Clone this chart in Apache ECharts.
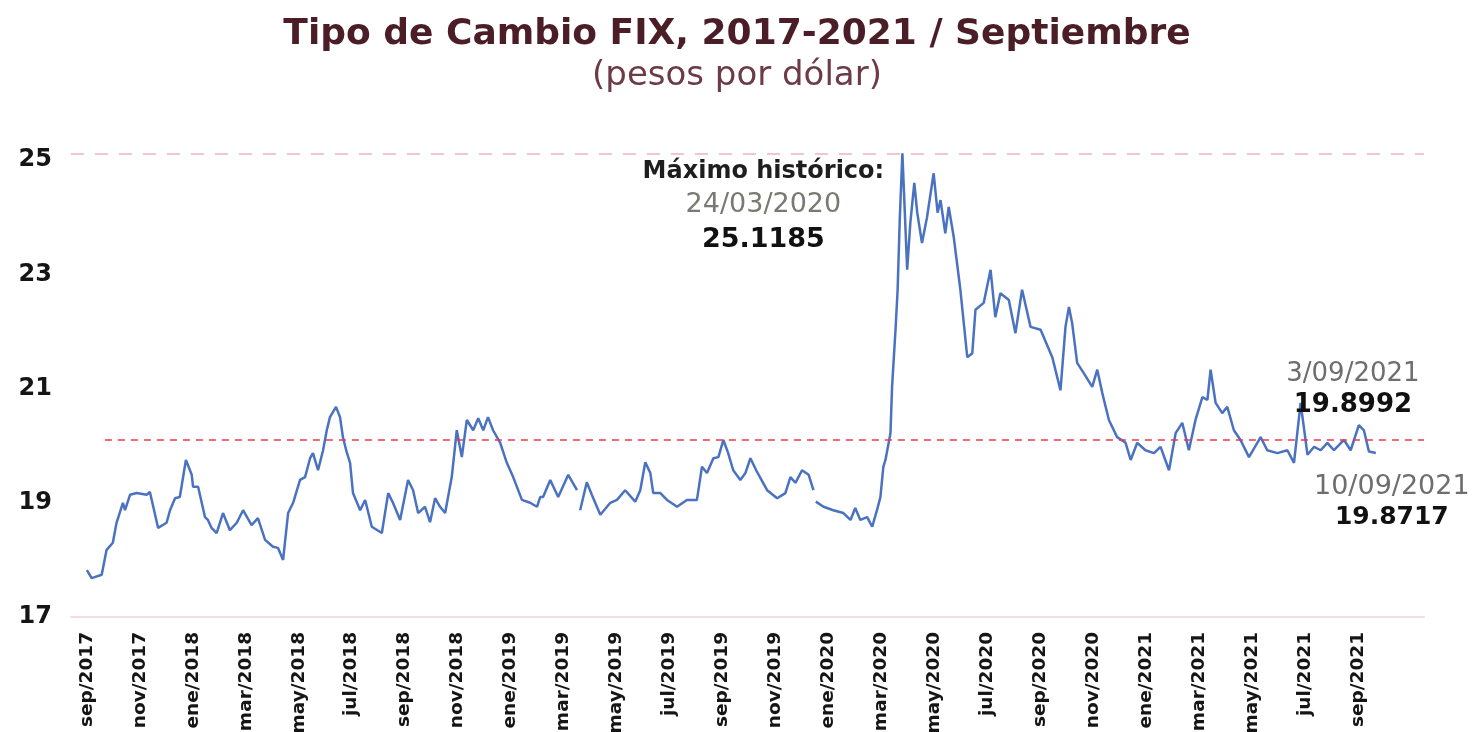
<!DOCTYPE html>
<html>
<head>
<meta charset="utf-8">
<script src="https://cdn.jsdelivr.net/npm/echarts@6/dist/echarts.min.js"></script>
<style>html,body{margin:0;padding:0;background:#fff}#c{width:1474px;height:732px}</style>
</head>
<body>
<div id="c"></div>
<script>
// Tick labels (every two months, starting sep/2017 = month 0)
const tickLabels = ['sep/2017','nov/2017','ene/2018','mar/2018','may/2018','jul/2018','sep/2018','nov/2018',
  'ene/2019','mar/2019','may/2019','jul/2019','sep/2019','nov/2019','ene/2020','mar/2020','may/2020',
  'jul/2020','sep/2020','nov/2020','ene/2021','mar/2021','may/2021','jul/2021','sep/2021'];

// Months elapsed since 1 Sep 2017
const meses = [0.00,0.18,0.56,0.74,0.98,1.12,1.36,1.44,1.63,1.88,2.26,2.38,2.69,3.01,3.14,3.33,3.51,3.74,3.96,4.01,
  4.20,4.46,4.57,4.71,4.90,5.14,5.40,5.66,5.90,6.22,6.46,6.73,7.03,7.22,7.41,7.60,7.79,8.05,8.24,8.43,
  8.54,8.73,8.92,9.06,9.18,9.41,9.56,9.67,9.81,9.94,10.05,10.32,10.51,10.76,11.14,11.38,11.56,11.83,12.13,12.32,
  12.51,12.77,12.96,13.15,13.34,13.53,13.78,13.97,14.16,14.35,14.59,14.78,14.97,15.15,15.34,15.61,15.86,16.10,16.43,16.74,
  17.00,17.12,17.23,17.50,17.80,18.18,18.51,18.57,18.63,18.88,19.07,19.39,19.77,20.02,20.33,20.71,20.90,21.09,21.28,21.39,
  21.66,21.91,22.29,22.66,23.04,23.23,23.42,23.66,23.85,24.04,24.22,24.41,24.68,24.87,25.06,25.31,25.69,26.07,26.38,26.57,
  26.76,27.01,27.26,27.44,27.48,27.53,27.82,28.19,28.57,28.84,29.02,29.21,29.47,29.66,29.84,29.97,30.08,30.16,30.35,30.41,
  30.54,30.62,30.70,30.80,30.98,31.10,31.25,31.36,31.54,31.73,31.98,32.13,32.24,32.42,32.55,32.74,32.99,33.25,33.44,33.56,
  33.87,34.13,34.31,34.50,34.82,35.07,35.32,35.64,36.02,36.46,36.77,36.96,37.09,37.21,37.40,37.65,37.97,38.16,38.35,38.60,
  38.91,39.23,39.42,39.67,39.98,40.30,40.55,40.87,41.12,41.37,41.62,41.87,42.13,42.32,42.44,42.63,42.88,43.07,43.32,43.57,
  43.89,44.33,44.58,44.96,45.34,45.59,45.84,46.10,46.35,46.60,46.85,47.10,47.48,47.73,48.04,48.23,48.42,48.68];

// Tipo de cambio FIX (pesos por dólar); null = gap in the line
const fix = [17.82,17.68,17.74,18.17,18.30,18.65,19.00,18.87,19.14,19.17,19.14,19.19,18.56,18.65,18.87,19.08,19.10,19.75,19.49,19.28,
  19.28,18.75,18.70,18.56,18.47,18.82,18.52,18.65,18.87,18.61,18.73,18.35,18.23,18.21,18.00,18.82,19.00,19.40,19.45,19.78,
  19.87,19.57,19.92,20.27,20.50,20.68,20.50,20.15,19.89,19.70,19.17,18.87,19.05,18.58,18.47,19.17,19.00,18.70,19.40,19.22,
  18.82,18.93,18.66,19.08,18.93,18.82,19.45,20.27,19.80,20.45,20.27,20.48,20.27,20.50,20.27,20.05,19.70,19.45,19.05,19.00,
  18.93,19.10,19.10,19.40,19.10,19.49,19.22,null,18.87,19.36,19.14,18.79,19.00,19.05,19.22,19.02,19.22,19.71,19.52,19.17,
  19.17,19.05,18.93,19.05,19.05,19.63,19.52,19.78,19.80,20.10,19.87,19.57,19.40,19.52,19.78,19.54,19.22,19.08,19.17,19.45,
  19.35,19.57,19.49,19.22,null,19.02,18.93,18.87,18.82,18.70,18.91,18.70,18.75,18.58,18.87,19.10,19.63,19.75,20.22,21.03,
  22.03,22.73,23.95,25.1185,23.08,23.90,24.60,24.08,23.55,24.00,24.77,24.08,24.30,23.72,24.18,23.65,22.73,21.55,21.62,22.38,
  22.50,23.08,22.25,22.67,22.55,21.97,22.73,22.08,22.03,21.55,20.97,22.08,22.43,22.15,21.45,21.27,21.03,21.33,20.92,20.45,
  20.15,20.05,19.75,20.05,19.92,19.87,19.98,19.57,20.22,20.40,19.92,20.45,20.85,20.80,21.33,20.75,20.57,20.68,20.27,20.10,
  19.80,20.15,19.92,19.87,19.92,19.70,20.75,19.84,19.98,19.92,20.05,19.92,20.10,19.92,20.36,20.27,19.8992,19.8717];

const yTicks = [17, 19, 21, 23, 25];
const maxPoint = { mes: 30.80, valor: 25.1185, fecha: '24/03/2020' };
const penultimo = { mes: 48.42, valor: 19.8992, fecha: '3/09/2021' };
const ultimo = { mes: 48.68, valor: 19.8717, fecha: '10/09/2021' };
const referencia = { desde: 0.68, valor: 20.1 };

const FONT = 'DejaVu Sans';
const chart = echarts.init(document.getElementById('c'), null, { renderer: 'canvas' });
const seriesData = meses.map((m, i) => [m, fix[i]]);

chart.setOption({
  backgroundColor: '#ffffff',
  animation: false,
  title: [
    { text: 'Tipo de Cambio FIX, 2017-2021 / Septiembre', left: 'center', top: 12,
      textStyle: { fontFamily: FONT, fontSize: 36, fontWeight: 'bold', color: '#4b1e27' } },
    { text: '(pesos por dólar)', left: 'center', top: 54,
      textStyle: { fontFamily: FONT, fontSize: 34, fontWeight: 'normal', color: '#6d3b47' } }
  ],
  grid: { left: 71, right: 50, top: 143, bottom: 115, containLabel: false, outerBoundsMode: 'none' },
  xAxis: {
    type: 'value', min: -0.6, max: 50.5,
    axisLine: { show: true, lineStyle: { color: '#f6dde3', width: 2 } },
    axisTick: { show: false },
    splitLine: { show: false },
    axisLabel: {
      customValues: tickLabels.map((_, i) => i * 2),
      formatter: v => tickLabels[Math.round(v / 2)] || '',
      rotate: 90, margin: 15,
      fontFamily: FONT, fontSize: 18.5, fontWeight: 'bold', color: '#151515'
    }
  },
  yAxis: {
    type: 'value', min: 17, max: 25.3,
    axisLine: { show: false }, axisTick: { show: false }, splitLine: { show: false },
    axisLabel: { customValues: yTicks, margin: 19, fontFamily: FONT, fontSize: 24, fontWeight: 'bold', color: '#151515' }
  },
  series: [{
    type: 'line', data: seriesData, showSymbol: false, connectNulls: false, clip: false,
    lineStyle: { color: '#4a72c0', width: 2.5 },
    itemStyle: { color: '#4a72c0' },
    markLine: {
      silent: true, symbol: ['none', 'none'], label: { show: false },
      data: [
        [{ coord: [-0.6, maxPoint.valor], lineStyle: { color: '#f3c6ce', width: 2, type: [13, 11] } },
         { coord: [50.5, maxPoint.valor] }],
        [{ coord: [referencia.desde, referencia.valor], lineStyle: { color: '#e63b4d', width: 1.6, type: [7, 6] } },
         { coord: [50.5, referencia.valor] }]
      ]
    },
    markPoint: {
      symbol: 'circle', symbolSize: 0, silent: true,
      data: [
        { coord: [maxPoint.mes, maxPoint.valor],
          label: { show: true, position: 'inside', offset: [-139, 53], align: 'center',
            formatter: '{a|Máximo histórico:}\n{b|' + maxPoint.fecha + '}\n{c|' + maxPoint.valor.toFixed(4) + '}',
            rich: {
              a: { fontFamily: FONT, fontSize: 24, fontWeight: 'bold', color: '#1e1e1e', lineHeight: 33, align: 'center' },
              b: { fontFamily: FONT, fontSize: 27, color: '#7a7a72', lineHeight: 34, align: 'center' },
              c: { fontFamily: FONT, fontSize: 27, fontWeight: 'bold', color: '#111', lineHeight: 36, align: 'center' }
            } } },
        { coord: [penultimo.mes, penultimo.valor],
          label: { show: true, position: 'inside', offset: [-16, -62], align: 'center',
            formatter: '{b|' + penultimo.fecha + '}\n{c|' + penultimo.valor.toFixed(4) + '}',
            rich: {
              b: { fontFamily: FONT, fontSize: 26, color: '#6e6e6e', lineHeight: 31, align: 'center' },
              c: { fontFamily: FONT, fontSize: 26, fontWeight: 'bold', color: '#111', lineHeight: 31, align: 'center' }
            } } },
        { coord: [ultimo.mes, ultimo.valor],
          label: { show: true, position: 'inside', offset: [16, 49], align: 'center',
            formatter: '{b|' + ultimo.fecha + '}\n{c|' + ultimo.valor.toFixed(4) + '}',
            rich: {
              b: { fontFamily: FONT, fontSize: 27, color: '#6e6e6e', lineHeight: 31, align: 'center' },
              c: { fontFamily: FONT, fontSize: 25, fontWeight: 'bold', color: '#111', lineHeight: 31, align: 'center' }
            } } }
      ]
    }
  }]
});
</script>
</body>
</html>
